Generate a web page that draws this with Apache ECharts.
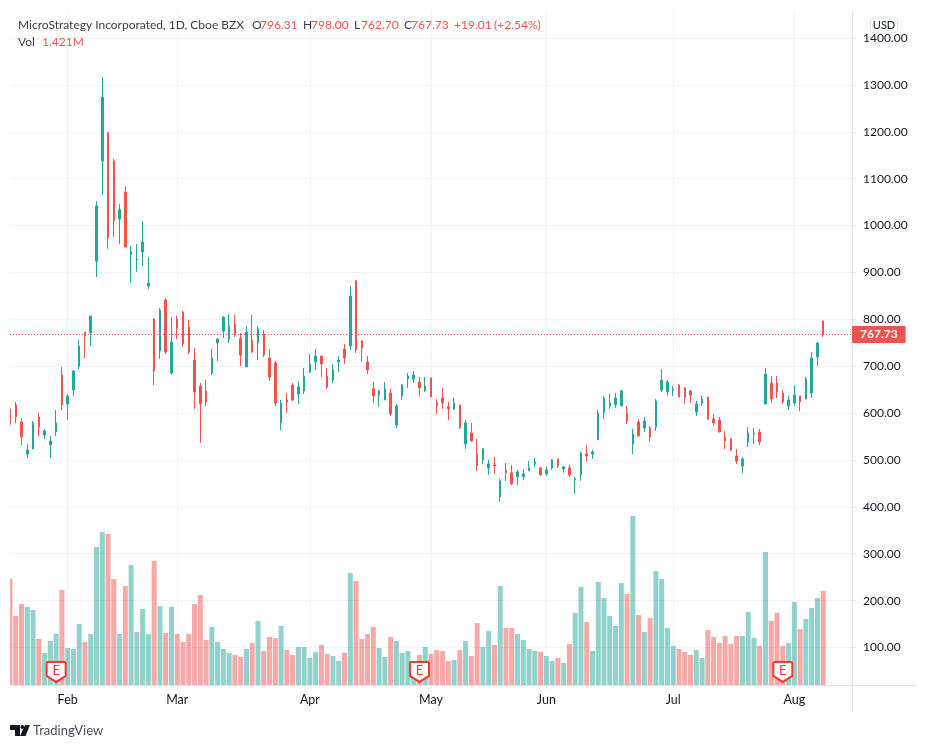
<!DOCTYPE html>
<html><head><meta charset="utf-8">
<style>html,body{margin:0;padding:0;background:#fff}#c{width:926px;height:748px}</style>
<script src="https://cdn.jsdelivr.net/npm/echarts@6/dist/echarts.min.js"></script>
</head><body><div id="c"></div>
<script>
const opens=[608.7,617.3,581,512.7,523.4,591.6,553.3,531.9,559.7,681.2,
619.4,649.3,700.4,773,770.8,924,1137.6,1198,1137.6,1013.9,
1071.5,939,926.5,943.6,871,800.7,732.4,841.2,685.5,800.7,
815.6,783.6,713.2,657.8,647.1,685.5,749.5,775,758,790,
760,698.3,755.9,749.5,768.7,717.5,706.8,578.9,627.9,659.9,
640.7,647.1,687.6,709,721.8,679.1,670.6,709,736.7,743.1,
881.7,753.8,709,651.4,638.6,627.9,642.8,574.6,636.4,672.7,
672.7,666.3,647.4,675.1,621.8,632.4,613.3,609,617.5,534.3,
557.8,513,500.2,483.1,489.5,421.3,478.9,472.5,464,464,
476.7,491.7,483.1,470.3,483.1,502.3,481,483.1,457.5,468.2,
513,513,542.9,600.4,615.4,617.5,615.4,600.2,534.1,581,
568.2,568.2,570.3,649.3,645,649.3,659.9,653.5,647.1,602.3,
621.5,634.3,587.4,585.3,549,544.7,508.5,487.1,538.3,555.4,
559.7,619.4,664.2,664.2,642.9,615.1,621.5,636.5,630,642.9,
719.6,796.31];
const closes=[576,591.6,549,521.3,578.9,570.3,561.8,540.5,578.9,617.3,
636.4,689.8,743.1,764.4,807.1,1041.7,1274,974,1010.3,1034.5,
954,943.6,928.7,964.9,877.4,689.8,819.9,730.3,751.6,781.5,
747.4,730.3,645,619.4,623.7,717.5,758,805,785.8,766.6,
723.9,773,730.3,779.4,723.9,677,621.5,621.5,623.6,627.9,
655.6,679.1,704.7,721.8,704.7,655.6,691.9,713.2,717.5,849.7,
734.6,738.8,691.9,636.4,647.1,651.4,598,615.1,659.9,679.1,
681.2,653.5,658,634.6,615.4,621.8,609,621.8,568.5,579.1,
540.7,487.4,523.7,491.7,487.4,455.4,472.5,449,474.6,470.3,
483.1,495.9,468.2,478.9,500.2,487.4,485.3,468.2,459.7,515.1,
508.7,517.3,600.4,632.4,621.8,632.4,647.4,583.1,555.4,551.1,
583.1,549,625.8,670.6,666.3,651.4,634.3,634.3,638.6,619.4,
630,587.4,578.9,559.7,540.5,521.3,497.8,502.1,557.5,557.5,
538.3,683.4,630,645,623.7,628,638.6,623.7,672.7,717.5,
749.5,767.73];
const highs=[623.7,623.7,589.5,534,583.1,600.2,566,551.1,606.6,698.3,
640.7,691.9,755.9,773,807.1,1052,1316.8,1199.6,1142,1045.9,
1084,956,960.6,1009.7,933,802.7,824.2,845.5,804.9,807.1,
817.8,798.6,738.8,664.2,670.6,736.7,760,807,811.3,809.2,
770.8,785.8,809.2,785.8,777.2,736.7,711.1,627.9,642.8,664.2,
668.4,696.2,726,736.7,721.8,696.2,704.7,721.8,747.4,871,
883.9,755.9,721.8,666.3,649.2,666.3,651.4,619.4,662,685.5,
689.8,677,677.2,675.1,630.3,653.8,623.9,632.4,617.5,585.5,
579.1,545,525.8,500.2,506.6,459.7,493.8,489.5,478.9,481,
498,504.5,485.3,485.3,502.3,502.3,487.4,489.5,464,517.3,
532.2,521.5,606.8,636.7,641,643.1,649.5,615.1,566.1,587.4,
591.7,572.5,630,694,670.6,657.8,662,655.7,649.3,625.8,
636.5,634.3,598.1,591.7,561.8,546.9,523.4,506.4,570.3,568.2,
566.1,696.2,679.1,679.1,649.3,636.5,659.9,636.5,677,730.3,
751.6,798];
const lows=[572.5,578.9,531.9,504.2,523.4,551.1,544.7,504.2,551.1,606.6,
585.3,636.4,694,717.5,743.1,890,1065,950.6,976,960.6,
954,877,901,913.7,864.7,659.9,715.4,726,681,758,
741,726,608.7,536.2,615,681,711,760,749.5,762.3,
700.4,698.3,728.2,713.2,719.6,668.4,615.1,563.9,600.2,625.8,
619.4,640.7,685.5,691.9,677,651.4,664.2,687.6,704.7,734.6,
728.2,709,683.4,621.5,613,627.9,593.8,568.2,627.9,653.5,
664.2,636.4,645.2,634.6,598.3,609,585.5,606.9,566.3,523.7,
538.6,476.7,491.7,468.2,470.3,410.6,455.4,446.9,446.9,457.5,
476.7,485.3,466.1,466.1,478.9,483.1,472.5,463.9,427.7,455.4,
495.9,502.3,542.9,587.6,609,611.1,615.4,576.7,512.7,551.1,
559.7,538.3,561.8,645,636.5,636.5,634.3,619.4,621.5,593.8,
615.1,585.3,572.5,559.7,523.4,519.1,491.4,472.2,527.7,534.1,
531.9,619.4,621.5,632.2,619.4,606.6,615.1,604.5,630,632.2,
700.4,762.7];
const volumes=[1.603,1.043,1.225,1.179,1.134,.696,.484,.665,.771,1.436,
.559,.544,.922,.650,.771,2.087,2.313,2.283,1.603,.771,
1.497,1.814,.801,1.149,.771,1.875,1.194,.786,1.179,.771,
.650,.771,1.225,1.361,.680,.877,.650,.544,.484,.454,
.423,.544,.635,.968,.514,.726,.711,.892,.529,.454,
.575,.575,.408,.499,.605,.469,.438,.363,.484,1.693,
1.572,.696,.771,.877,.559,.423,.726,.665,.484,.514,
.302,.454,.575,.469,.529,.514,.363,.378,.529,.665,
.438,.937,.575,.816,.605,1.497,.862,.862,.771,.680,
.544,.514,.499,.438,.363,.408,.333,.620,1.089,1.482,
.953,.514,1.557,1.315,1.043,.892,1.542,1.376,2.555,1.058,
.801,1.013,1.724,1.603,.862,.590,.544,.499,.454,.529,
.408,.832,.726,.635,.741,.620,.741,.741,1.104,.711,
.590,2.011,.968,1.089,.590,.635,1.255,.847,.998,1.164,
1.315,1.421];
const monthIndex=[10,29,52,73,93,115,136];
const monthNames=['Feb','Mar','Apr','May','Jun','Jul','Aug'];
const earningsIndex=[8,71,134];
const lastPrice=767.73;
const UP='#26a69a',DOWN='#ef5350',FONT='Lato,sans-serif',INK='#131722',GRID='#f0f3fa',AXIS='#e0e3eb';

const categories=[];
for(let i=0;i<147;i++){const m=monthIndex.indexOf(i);categories.push(m>=0?monthNames[m]:'d'+i);}
const isMonth=(i)=>monthIndex.includes(i);
const candles=opens.map((o,i)=>[o,closes[i],lows[i],highs[i]]);
const volBars=volumes.map((v,i)=>({value:v,itemStyle:{color:closes[i]>=opens[i]?'rgba(38,166,154,.5)':'rgba(239,83,80,.5)'}}));

const txt=(x,y,s,fill,extra)=>({type:'text',x,y,z:50,style:Object.assign({text:s,fill:fill||'#3a3e4a',font:'12px '+FONT,textVerticalAlign:'middle'},extra||{})});
const ln=(x1,y1,x2,y2)=>({type:'line',z:1,silent:true,shape:{x1,y1,x2,y2},style:{stroke:AXIS,lineWidth:1}});

const chart=echarts.init(document.getElementById('c'),null,{renderer:'canvas'});
chart.setOption({
 animation:false,backgroundColor:'#fff',
 grid:[{left:10,top:10,width:842,height:684.4},{left:10,top:10,width:842,height:675}],
 xAxis:[
  {type:'category',gridIndex:0,data:categories,boundaryGap:false,show:false},
  {type:'category',gridIndex:1,data:categories,boundaryGap:false,
   axisLine:{show:false},
   axisTick:{show:true,interval:(i)=>isMonth(i),length:4,lineStyle:{color:AXIS}},
   axisLabel:{interval:(i)=>isMonth(i),color:INK,fontFamily:FONT,fontSize:12.5,margin:8},
   splitLine:{show:true,interval:(i)=>isMonth(i),lineStyle:{color:GRID,width:1}}}
 ],
 yAxis:[
  {type:'value',gridIndex:0,position:'right',min:0,max:1459.75,interval:100,
   axisLine:{show:false},axisTick:{show:true,length:4,lineStyle:{color:AXIS}},
   axisLabel:{color:INK,fontFamily:FONT,fontSize:12,margin:11,showMinLabel:false,showMaxLabel:false,formatter:(v)=>v.toFixed(2)},
   splitLine:{show:true,showMinLine:false,showMaxLine:false,lineStyle:{color:GRID,width:1}}},
  {type:'value',gridIndex:1,min:0,max:10.204,show:false,splitLine:{show:false}}
 ],
 series:[
  {type:'bar',name:'Vol',xAxisIndex:1,yAxisIndex:1,data:volBars,barWidth:5,z:2,silent:true,clip:true},
  {type:'candlestick',name:'Price',xAxisIndex:0,yAxisIndex:0,data:candles,barWidth:2,z:3,silent:true,
   itemStyle:{color:UP,color0:DOWN,borderColor:UP,borderColor0:DOWN,borderWidth:1},
   markLine:{silent:true,symbol:'none',animation:false,lineStyle:{color:DOWN,type:[1,2],width:1},
    label:{show:true,position:'end',distance:0,formatter:lastPrice.toFixed(2),color:'#fff',backgroundColor:DOWN,fontFamily:FONT,fontWeight:'bold',fontSize:12,padding:[3,8,2,8],borderRadius:1},
    data:[{yAxis:lastPrice}]}},
  {type:'scatter',name:'Earnings',xAxisIndex:1,yAxisIndex:1,z:4,silent:true,
   data:earningsIndex.map(i=>[i,0.197]),
   symbol:'path://M1 0H18Q19 0 19 1V14L9.5 20L0 14V1Q0 0 1 0Z',symbolSize:[19,20],
   itemStyle:{color:'#fff',borderColor:'#f7392b',borderWidth:2,opacity:1},
   label:{show:true,position:'inside',formatter:'E',color:'#f7392b',fontFamily:FONT,fontSize:13,offset:[0,-1]}}
 ],
 graphic:[
  {type:'rect',z:40,silent:true,shape:{x:0,y:8,width:10,height:682},style:{fill:'#fff'}},
  ln(10,685.5,916,685.5),ln(852.5,10,852.5,712),
  txt(18,25,'MicroStrategy Incorporated, 1D, Cboe BZX'),
  txt(252,25,'O'),txt(260,25,'796.31',DOWN),
  txt(303,25,'H'),txt(311,25,'798.00',DOWN),
  txt(354,25,'L'),txt(361,25,'762.70',DOWN),
  txt(404,25,'C'),txt(411,25,'767.73',DOWN),
  txt(454,25,'+19.01',DOWN),txt(494,25,'(+2.54%)',DOWN),
  txt(18,42,'Vol'),txt(42,42,'1.421M',DOWN),
  {type:'rect',z:60,shape:{x:870.5,y:17,width:27,height:16,r:4},style:{fill:'#fff',stroke:AXIS,lineWidth:1}},
  {type:'text',x:884,y:25.5,z:61,style:{text:'USD',fill:INK,font:'11px '+FONT,textAlign:'center',textVerticalAlign:'middle'}},
  {type:'polygon',z:50,shape:{points:[[10,725],[20,725],[20,736],[15,736],[15,730],[10,730]]},style:{fill:'#131722'}},
  {type:'polygon',z:50,shape:{points:[[25,725],[30,725],[25.5,736],[20,736]]},style:{fill:'#131722'}},
  {type:'circle',z:50,shape:{cx:22.3,cy:727,r:2},style:{fill:'#131722'}},
  {type:'text',x:33,y:731,z:50,style:{text:'TradingView',fill:'#4a4f5c',font:'13px '+FONT,textVerticalAlign:'middle'}}
 ]
});
</script></body></html>
